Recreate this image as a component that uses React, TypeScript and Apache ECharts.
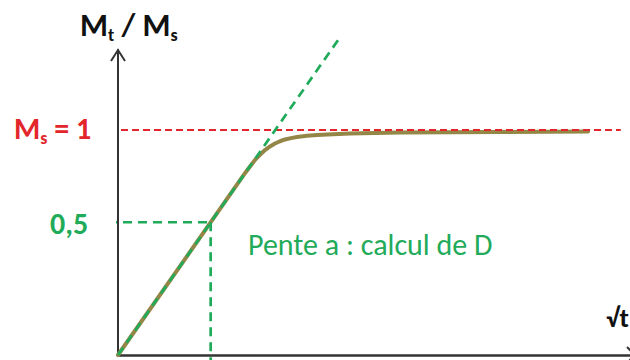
import React, { useEffect, useRef } from "react";
import * as echarts from "echarts";

// Schematic units: x arbitrary (√t), y in Mt/Ms (Ms = 1)
const curveX = [0, 2.48, 2.578, 2.676, 2.773, 2.871, 2.969, 3.066, 3.164, 3.262, 3.379, 3.496, 3.691, 3.887, 4.199, 4.531, 5.02, 5.508, 7.461, 9.18];
const curveY = [0, 0.808, 0.838, 0.867, 0.89, 0.911, 0.927, 0.94, 0.95, 0.958, 0.964, 0.969, 0.974, 0.978, 0.981, 0.984, 0.987, 0.989, 0.991, 0.993];
const tangentX = [0, 4.33];
const tangentY = [0, 1.41];
const msLevel = 1;
const msLineX = [-0.156, 9.82];
const halfLevel = 0.59; // level drawn for "0,5" in the schematic
const halfX = 1.81;
const halfLineStartX = -0.195;
const xMin = 0;
const xMax = 10;
const yMin = 0;
const yMax = 1.3556;

const titleText = "{m|M}{s|t}{m| / M}{s|s}";
const msText = "{m|M}{s|s}{m| = 1}";
const halfLabel = "0,5";
const slopeLabel = "Pente a : calcul de D";
const xLabel = "√t";

const FONT = "Calibri, Carlito, Lato, sans-serif";
const GREEN = "#1fab5a";
const RED = "#e3262c";
const AXIS = "#333333";

export default function App() {
  const ref = useRef<HTMLDivElement>(null);
  useEffect(() => {
    document.body.style.margin = "0";
    const chart = echarts.init(ref.current!, null, { renderer: "svg" });
    const zip = (xs: number[], ys: number[]) => xs.map((x, i) => [x, ys[i]]);
    const dashedLine = (data: number[][], color: string, width: number, dash: number[], z = 3) => ({
      type: "line",
      data,
      symbol: "none",
      clip: false,
      silent: true,
      z,
      lineStyle: { color, width, type: dash },
    });
    chart.setOption({
      animation: false,
      grid: { left: 118, right: 0, top: 50, bottom: 5, containLabel: false },
      xAxis: {
        type: "value",
        min: xMin,
        max: xMax,
        axisLine: { show: true, lineStyle: { color: AXIS, width: 2.5 } },
        axisTick: { show: false },
        axisLabel: { show: false },
        splitLine: { show: false },
      },
      yAxis: {
        type: "value",
        min: yMin,
        max: yMax,
        axisLine: { show: true, lineStyle: { color: AXIS, width: 2 } },
        axisTick: { show: false },
        axisLabel: { show: false },
        splitLine: { show: false },
      },
      series: [
        {
          type: "line",
          data: zip(curveX, curveY),
          symbol: "none",
          smooth: false,
          clip: false,
          z: 2,
          lineStyle: { color: "#948646", width: 4, join: "round", cap: "round" },
        },
        dashedLine(zip(tangentX, tangentY), GREEN, 2.7, [9, 6], 4),
        dashedLine(zip(msLineX, [msLevel, msLevel]), RED, 2, [7, 4], 3),
        dashedLine([[halfLineStartX, halfLevel], [halfX, halfLevel]], GREEN, 2.7, [9, 6], 4),
        dashedLine([[halfX, halfLevel], [halfX, -0.03]], GREEN, 2.7, [9, 6], 4),
      ],
    });

    const [ox, oy] = chart.convertToPixel({ gridIndex: 0 }, [0, 0]) as number[];
    const [, topY] = chart.convertToPixel({ gridIndex: 0 }, [0, yMax]) as number[];
    const [rightX] = chart.convertToPixel({ gridIndex: 0 }, [xMax, 0]) as number[];

    const richBase = (color: string, size: number, sub: number) => ({
      m: { font: `bold ${size}px ${FONT}`, fill: color, lineHeight: 38, verticalAlign: "middle" },
      s: { font: `bold ${sub}px ${FONT}`, fill: color, verticalAlign: "bottom" },
    });

    chart.setOption({
      graphic: [
        {
          type: "polyline",
          shape: { points: [[ox - 7, topY + 11], [ox, topY], [ox + 7, topY + 11]] },
          style: { stroke: AXIS, lineWidth: 2, fill: "none" },
          z: 10,
        },
        {
          type: "polyline",
          shape: { points: [[rightX - 3, oy - 8], [rightX + 5, oy], [rightX - 3, oy + 8]] },
          style: { stroke: AXIS, lineWidth: 2, fill: "none" },
          z: 10,
        },
        {
          type: "text",
          x: 80,
          y: 25,
          style: {
            text: titleText,
            rich: richBase("#111111", 32, 18),
            textVerticalAlign: "middle",
          },
        },
        {
          type: "text",
          x: 14,
          y: 128,
          style: {
            text: msText,
            rich: richBase(RED, 30, 18),
            textVerticalAlign: "middle",
          },
        },
        {
          type: "text",
          x: 50,
          y: 223,
          style: {
            text: halfLabel,
            font: `bold 30px ${FONT}`,
            fill: GREEN,
            textVerticalAlign: "middle",
          },
        },
        {
          type: "text",
          x: 248,
          y: 244,
          style: {
            text: slopeLabel,
            font: `30px ${FONT}`,
            fill: GREEN,
            textVerticalAlign: "middle",
          },
        },
        {
          type: "text",
          x: 606,
          y: 317,
          style: {
            text: xLabel,
            font: `bold 27px ${FONT}`,
            fill: "#111111",
            textVerticalAlign: "middle",
          },
        },
      ],
    });

    return () => chart.dispose();
  }, []);
  return <div ref={ref} style={{ width: 630, height: 360 }} />;
}
